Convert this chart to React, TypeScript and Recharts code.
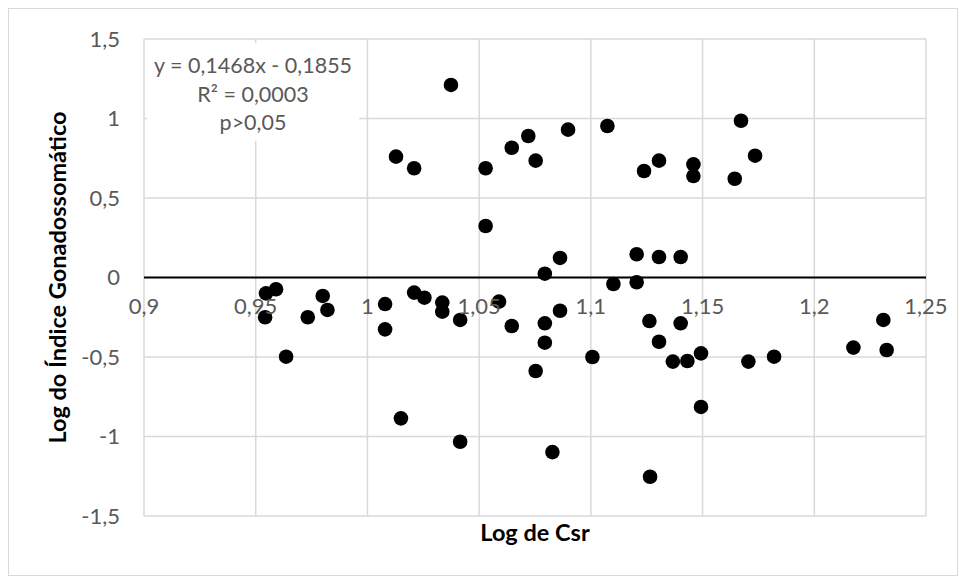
import {
  ScatterChart,
  Scatter,
  XAxis,
  YAxis,
  CartesianGrid,
  ReferenceLine,
} from "recharts";

// Log de Csr (x) vs Log do Índice Gonadossomático (y)
const logCsr = [
  1.0374, 1.0128, 1.0209, 1.0529, 1.0646, 1.072, 1.0753, 1.0898, 1.1074, 1.1238,
  1.0529, 1.0862, 1.0794, 1.1205, 1.1101, 1.1205, 1.1305, 1.1459, 1.1459, 1.1672,
  1.1735, 1.1644, 1.1305, 1.1402, 0.9546, 0.9591, 0.9542, 0.9733, 0.98, 0.9821,
  0.9636, 1.0079, 1.0079, 1.0209, 1.0255, 1.0335, 1.0335, 1.0415, 1.0589, 1.0646,
  1.0794, 1.0794, 1.0862, 1.0753, 1.1007, 1.015, 1.0415, 1.0828, 1.1262, 1.1265,
  1.1305, 1.1402, 1.1367, 1.1432, 1.1493, 1.1493, 1.1705, 1.182, 1.2175, 1.2309,
  1.2324,
];
const logIgs = [
  1.211, 0.76, 0.687, 0.687, 0.816, 0.89, 0.735, 0.93, 0.953, 0.67,
  0.324, 0.123, 0.024, 0.146, -0.041, -0.03, 0.735, 0.712, 0.638, 0.986,
  0.766, 0.621, 0.129, 0.129, -0.1, -0.074, -0.25, -0.25, -0.116, -0.204,
  -0.498, -0.167, -0.326, -0.095, -0.127, -0.158, -0.215, -0.267, -0.152, -0.305,
  -0.288, -0.41, -0.209, -0.588, -0.5, -0.886, -1.033, -1.098, -0.274, -1.253,
  -0.404, -0.288, -0.529, -0.525, -0.477, -0.814, -0.529, -0.498, -0.441, -0.267,
  -0.456,
];

const xTicks = [0.9, 0.95, 1, 1.05, 1.1, 1.15, 1.2, 1.25];
const yTicks = [-1.5, -1, -0.5, 0, 0.5, 1, 1.5];
const equationLines = ["y = 0,1468x - 0,1855", "R² = 0,0003", "p>0,05"];

const points = logCsr.map((x, i) => ({ x, y: logIgs[i] }));

const W = 948;
const H = 566;
const MARGIN = { top: 30, right: 31, left: 0, bottom: 0 };
const Y_AXIS_W = 135;
const X_AXIS_H = 59;
const PLOT_H = H - MARGIN.top - MARGIN.bottom - X_AXIS_H;
const ZERO_Y = MARGIN.top + PLOT_H / 2;

const FONT = "Lato, 'Open Sans', sans-serif";
const GRAY = "#595959";
const TICK_SIZE = 22;
const TITLE_SIZE = 23.5;

const fmt = (v: number) => String(v).replace(".", ",");

// Excel draws the category labels next to the y=0 axis, not at the bottom
const XTick = (props: any) => {
  const { x, payload } = props;
  return (
    <text
      x={x}
      y={ZERO_Y + 31}
      textAnchor="middle"
      dominantBaseline="middle"
      fill={GRAY}
      fontSize={TICK_SIZE}
      fontFamily={FONT}
    >
      {fmt(payload.value)}
    </text>
  );
};

const Dot = (props: any) => <circle cx={props.cx} cy={props.cy} r={7.3} fill="#000" />;

export default function App() {
  return (
    <div
      style={{
        position: "relative",
        width: W,
        height: H,
        border: "1px solid #d9d9d9",
        background: "#fff",
      }}
    >
      <ScatterChart width={W} height={H} margin={MARGIN}>
        <CartesianGrid stroke="#d9d9d9" strokeWidth={1.5} />
        <XAxis
          type="number"
          dataKey="x"
          domain={[0.9, 1.25]}
          ticks={xTicks}
          height={X_AXIS_H}
          axisLine={false}
          tickLine={false}
          tick={<XTick />}
          label={{
            value: "Log de Csr",
            position: "insideTop",
            offset: 8,
            fill: "#000",
            fontSize: TITLE_SIZE,
            fontWeight: 700,
            fontFamily: FONT,
          }}
        />
        <YAxis
          type="number"
          dataKey="y"
          domain={[-1.5, 1.5]}
          ticks={yTicks}
          width={Y_AXIS_W}
          axisLine={false}
          tickLine={false}
          tickSize={8}
          tickMargin={16}
          tickFormatter={fmt}
          tick={{ fill: GRAY, fontSize: TICK_SIZE, fontFamily: FONT }}
          label={{
            value: "Log do Índice Gonadossomático",
            angle: -90,
            position: "insideLeft",
            offset: 49,
            fill: "#000",
            fontSize: TITLE_SIZE,
            fontWeight: 700,
            fontFamily: FONT,
            style: { textAnchor: "middle" },
          }}
        />
        <ReferenceLine y={0} stroke="#000" strokeWidth={1.8} />
        <Scatter data={points} shape={<Dot />} isAnimationActive={false} />
      </ScatterChart>
      <div
        style={{
          position: "absolute",
          left: 138,
          top: 34,
          width: 212,
          height: 90,
          background: "#fff",
          color: GRAY,
          fontFamily: FONT,
          fontSize: 21.5,
          lineHeight: "28.5px",
          textAlign: "center",
          paddingTop: 8,
        }}
      >
        {equationLines.map((l) => (
          <div key={l}>{l}</div>
        ))}
      </div>
    </div>
  );
}
